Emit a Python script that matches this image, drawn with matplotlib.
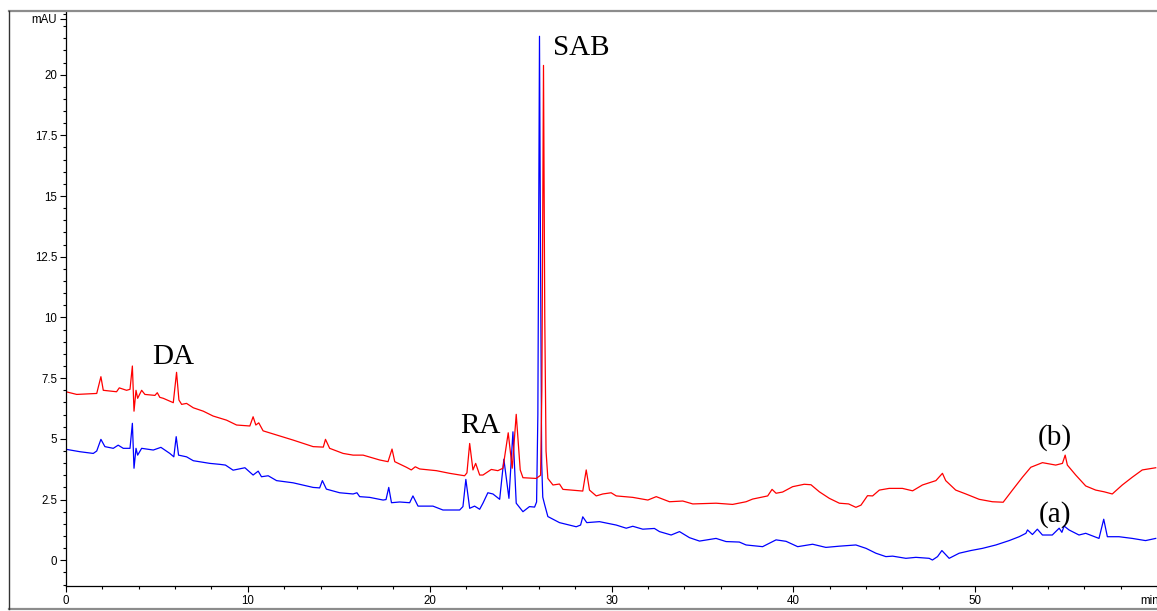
import matplotlib
matplotlib.use("Agg")
import matplotlib.pyplot as plt
from matplotlib.lines import Line2D
from matplotlib.ticker import MultipleLocator

# trace (b), red
red_t = [0, 0.59, 1.69, 1.92, 2.05, 2.78, 2.93, 3.33, 3.52, 3.65, 3.74, 3.85, 3.94,
         4.16, 4.34, 4.89, 5.02, 5.16, 5.35, 5.9, 6.08, 6.21, 6.36, 6.63, 7.0, 7.55,
         8.09, 8.83, 9.38, 10.11, 10.29, 10.44, 10.6, 10.84, 11.58, 12.49, 13.59,
         14.15, 14.27, 14.5, 15.24, 15.79, 16.34, 17.25, 17.71, 17.93, 18.08, 18.72,
         18.99, 19.21, 19.45, 20.37, 21.1, 21.92, 22.05, 22.2, 22.38, 22.53, 22.75,
         22.93, 23.39, 23.75, 24.03, 24.32, 24.54, 24.76, 24.98, 25.13, 25.86, 26.1,
         26.17, 26.26, 26.33, 26.4, 26.5, 26.78, 27.14, 27.33, 28.42, 28.61, 28.79,
         29.16, 29.52, 29.98, 30.26, 31.17, 32.0, 32.46, 33.19, 33.92, 34.47, 35.75,
         36.66, 37.4, 37.76, 38.59, 38.83, 39.05, 39.41, 39.96, 40.6, 40.97, 41.43,
         41.98, 42.53, 43.04, 43.44, 43.72, 44.08, 44.36, 44.73, 45.27, 46.0, 46.56,
         47.1, 47.84, 48.2, 48.38, 48.93, 49.49, 50.22, 50.95, 51.54, 52.05, 52.6,
         53.06, 53.7, 54.43, 54.8, 54.95, 55.07, 55.53, 56.08, 56.63, 57.09, 57.54,
         58.09, 58.64, 59.19, 59.93]
red_v = [6.94, 6.83, 6.87, 7.56, 7.0, 6.94, 7.1, 7.0, 7.04, 8.0, 6.14, 7.0, 6.67,
         7.0, 6.83, 6.79, 6.9, 6.71, 6.67, 6.49, 7.74, 6.6, 6.42, 6.46, 6.28, 6.14,
         5.94, 5.77, 5.57, 5.53, 5.91, 5.57, 5.66, 5.33, 5.16, 4.95, 4.68,
         4.66, 4.98, 4.61, 4.40, 4.33, 4.33, 4.13, 4.06, 4.58, 4.06, 3.83,
         3.72, 3.85, 3.76, 3.69, 3.58, 3.48, 3.6, 4.81, 3.72, 3.99, 3.51,
         3.51, 3.74, 3.69, 3.79, 5.25, 3.79, 6.01, 3.72, 3.40, 3.37, 3.5,
         7.0, 20.38, 10.0, 4.5, 3.37, 3.10, 3.14, 2.92, 2.85, 3.72, 2.89,
         2.65, 2.73, 2.78, 2.65, 2.59, 2.48, 2.62, 2.41, 2.44, 2.32, 2.35,
         2.30, 2.41, 2.52, 2.65, 2.92, 2.76, 2.81, 3.03, 3.13, 3.11, 2.82,
         2.55, 2.35, 2.32, 2.18, 2.27, 2.66, 2.65, 2.89, 2.96, 2.96, 2.86,
         3.10, 3.28, 3.58, 3.28, 2.89, 2.73, 2.51, 2.41, 2.39, 2.89, 3.42,
         3.83, 4.02, 3.92, 3.99, 4.33, 3.92, 3.51, 3.06, 2.89, 2.82, 2.73,
         3.10, 3.42, 3.72, 3.81]

# trace (a), blue
blue_t = [0, 0.77, 1.5, 1.69, 1.92, 2.14, 2.6, 2.87, 3.15, 3.52, 3.65, 3.74, 3.85,
          3.94, 4.16, 4.8, 5.22, 5.71, 5.93, 6.06, 6.19, 6.63, 7.0, 7.91, 8.46, 8.77,
          9.19, 9.84, 10.29, 10.57, 10.75, 11.12, 11.58, 12.49, 13.59, 13.95, 14.1,
          14.32, 15.05, 15.79, 16.0, 16.15, 16.7, 17.44, 17.6, 17.75, 17.9, 18.35,
          18.9, 19.08, 19.36, 20.18, 20.73, 21.65, 21.83, 21.99, 22.2, 22.47, 22.75,
          22.93, 23.2, 23.48, 23.85, 24.08, 24.36, 24.58, 24.76, 25.13, 25.49, 25.77,
          25.88, 25.95, 26.04, 26.1, 26.16, 26.22, 26.32, 26.5, 27.14, 28.06, 28.3,
          28.42, 28.64, 29.34, 30.26, 30.81, 31.17, 31.72, 32.36, 32.64, 33.28, 33.74,
          34.29, 34.84, 35.75, 36.3, 37.03, 37.4, 38.31, 39.05, 39.6, 40.24, 41.06,
          41.79, 42.53, 43.44, 44.0, 44.54, 45.09, 45.46, 46.19, 46.74, 47.47, 47.65,
          47.93, 48.17, 48.57, 49.12, 49.76, 50.4, 51.14, 51.87, 52.42, 52.79, 52.88,
          53.15, 53.42, 53.7, 54.24, 54.62, 54.77, 54.89, 55.16, 55.71, 56.08, 56.81,
          57.07, 57.27, 57.91, 58.64, 59.37, 59.93]
blue_v = [4.57, 4.47, 4.40, 4.5, 4.98, 4.68, 4.61, 4.74, 4.61, 4.61, 5.64, 3.79, 4.61,
          4.33, 4.61, 4.54, 4.65, 4.40, 4.26, 5.09, 4.33, 4.26, 4.10, 3.99, 3.95, 3.92,
          3.71, 3.81, 3.51, 3.67, 3.44, 3.48, 3.28, 3.19, 3.0, 2.98, 3.28,
          2.93, 2.78, 2.73, 2.78, 2.62, 2.59, 2.48, 2.5, 3.0, 2.37, 2.4,
          2.37, 2.65, 2.23, 2.23, 2.07, 2.07, 2.21, 3.33, 2.14, 2.23, 2.1,
          2.35, 2.78, 2.73, 2.51, 4.16, 2.55, 5.29, 2.35, 2.0, 2.21, 2.19,
          2.4, 6.0, 21.58, 12.0, 4.0, 2.6, 2.3, 1.8, 1.55, 1.38, 1.45,
          1.79, 1.55, 1.59, 1.45, 1.32, 1.40, 1.28, 1.31, 1.18, 1.04, 1.18,
          0.93, 0.79, 0.90, 0.77, 0.75, 0.63, 0.56, 0.84, 0.78, 0.56, 0.66,
          0.53, 0.58, 0.63, 0.49, 0.29, 0.15, 0.17, 0.08, 0.12, 0.08, 0.01,
          0.15, 0.40, 0.08, 0.29, 0.40, 0.49, 0.63, 0.81, 0.97, 1.11, 1.25,
          1.06, 1.28, 1.04, 1.04, 1.32, 1.15, 1.41, 1.25, 1.04, 1.11, 0.90,
          1.69, 0.97, 0.97, 0.90, 0.81, 0.90]

y_major = [0, 2.5, 5, 7.5, 10, 12.5, 15, 17.5, 20]
y_labels = ["0", "2.5", "5", "7.5", "10", "12.5", "15", "17.5", "20"]
x_major = [0, 10, 20, 30, 40, 50]

plt.rcParams["font.family"] = ["Liberation Sans", "DejaVu Sans"]

W, H = 1157, 611
fig = plt.figure(figsize=(W / 100, H / 100), dpi=100)
ax = fig.add_axes([66 / W, 1 - 586 / H, 1 - 66 / W, (586 - 12) / H])

ax.plot(blue_t, blue_v, color="#0000ff", lw=0.9)
ax.plot(red_t, red_v, color="#ff0000", lw=0.9)

ax.set_xlim(0, 60)
ax.set_ylim(-1.06, 22.58)
for s in ("top", "right"):
    ax.spines[s].set_visible(False)
for s in ("left", "bottom"):
    ax.spines[s].set_linewidth(0.9)

ax.set_yticks(y_major + [22.3])
ax.set_yticklabels(y_labels + ["mAU"])
ax.yaxis.set_minor_locator(MultipleLocator(0.5))
ax.set_xticks(x_major)
ax.xaxis.set_minor_locator(MultipleLocator(2))
ax.tick_params(which="major", direction="out", length=4.3, width=0.8,
               labelsize=8.3, pad=2)
ax.tick_params(which="minor", direction="out", length=2.4, width=0.8)
# axis unit at the end of the time axis, on the tick-label row
ax.text(59.1, -1.43, "min", ha="left", va="top", fontsize=8.3, clip_on=False)

serif = ["Liberation Serif", "DejaVu Serif"]
ax.text(5.9, 8.08, "DA", ha="center", va="baseline", fontsize=21, family=serif)
ax.text(22.78, 5.25, "RA", ha="center", va="baseline", fontsize=21, family=serif)
ax.text(26.76, 20.79, "SAB", ha="left", va="baseline", fontsize=21, family=serif)
ax.text(54.4, 4.74, "(b)", ha="center", va="baseline", fontsize=21, family=serif)
ax.text(54.4, 1.59, "(a)", ha="center", va="baseline", fontsize=21, family=serif)

# outer frame
x0, yt, yb = 9 / W, 1 - 10.5 / H, 1 - 609 / H
fig.add_artist(Line2D([x0, 1], [yt, yt], transform=fig.transFigure,
                      color="#8c8c8c", lw=1.6))
fig.add_artist(Line2D([x0, 1], [yb, yb], transform=fig.transFigure,
                      color="#8c8c8c", lw=1.6))
fig.add_artist(Line2D([x0, x0], [yb, yt], transform=fig.transFigure,
                      color="#333333", lw=1.0))

fig.savefig("out.png", dpi=100)
